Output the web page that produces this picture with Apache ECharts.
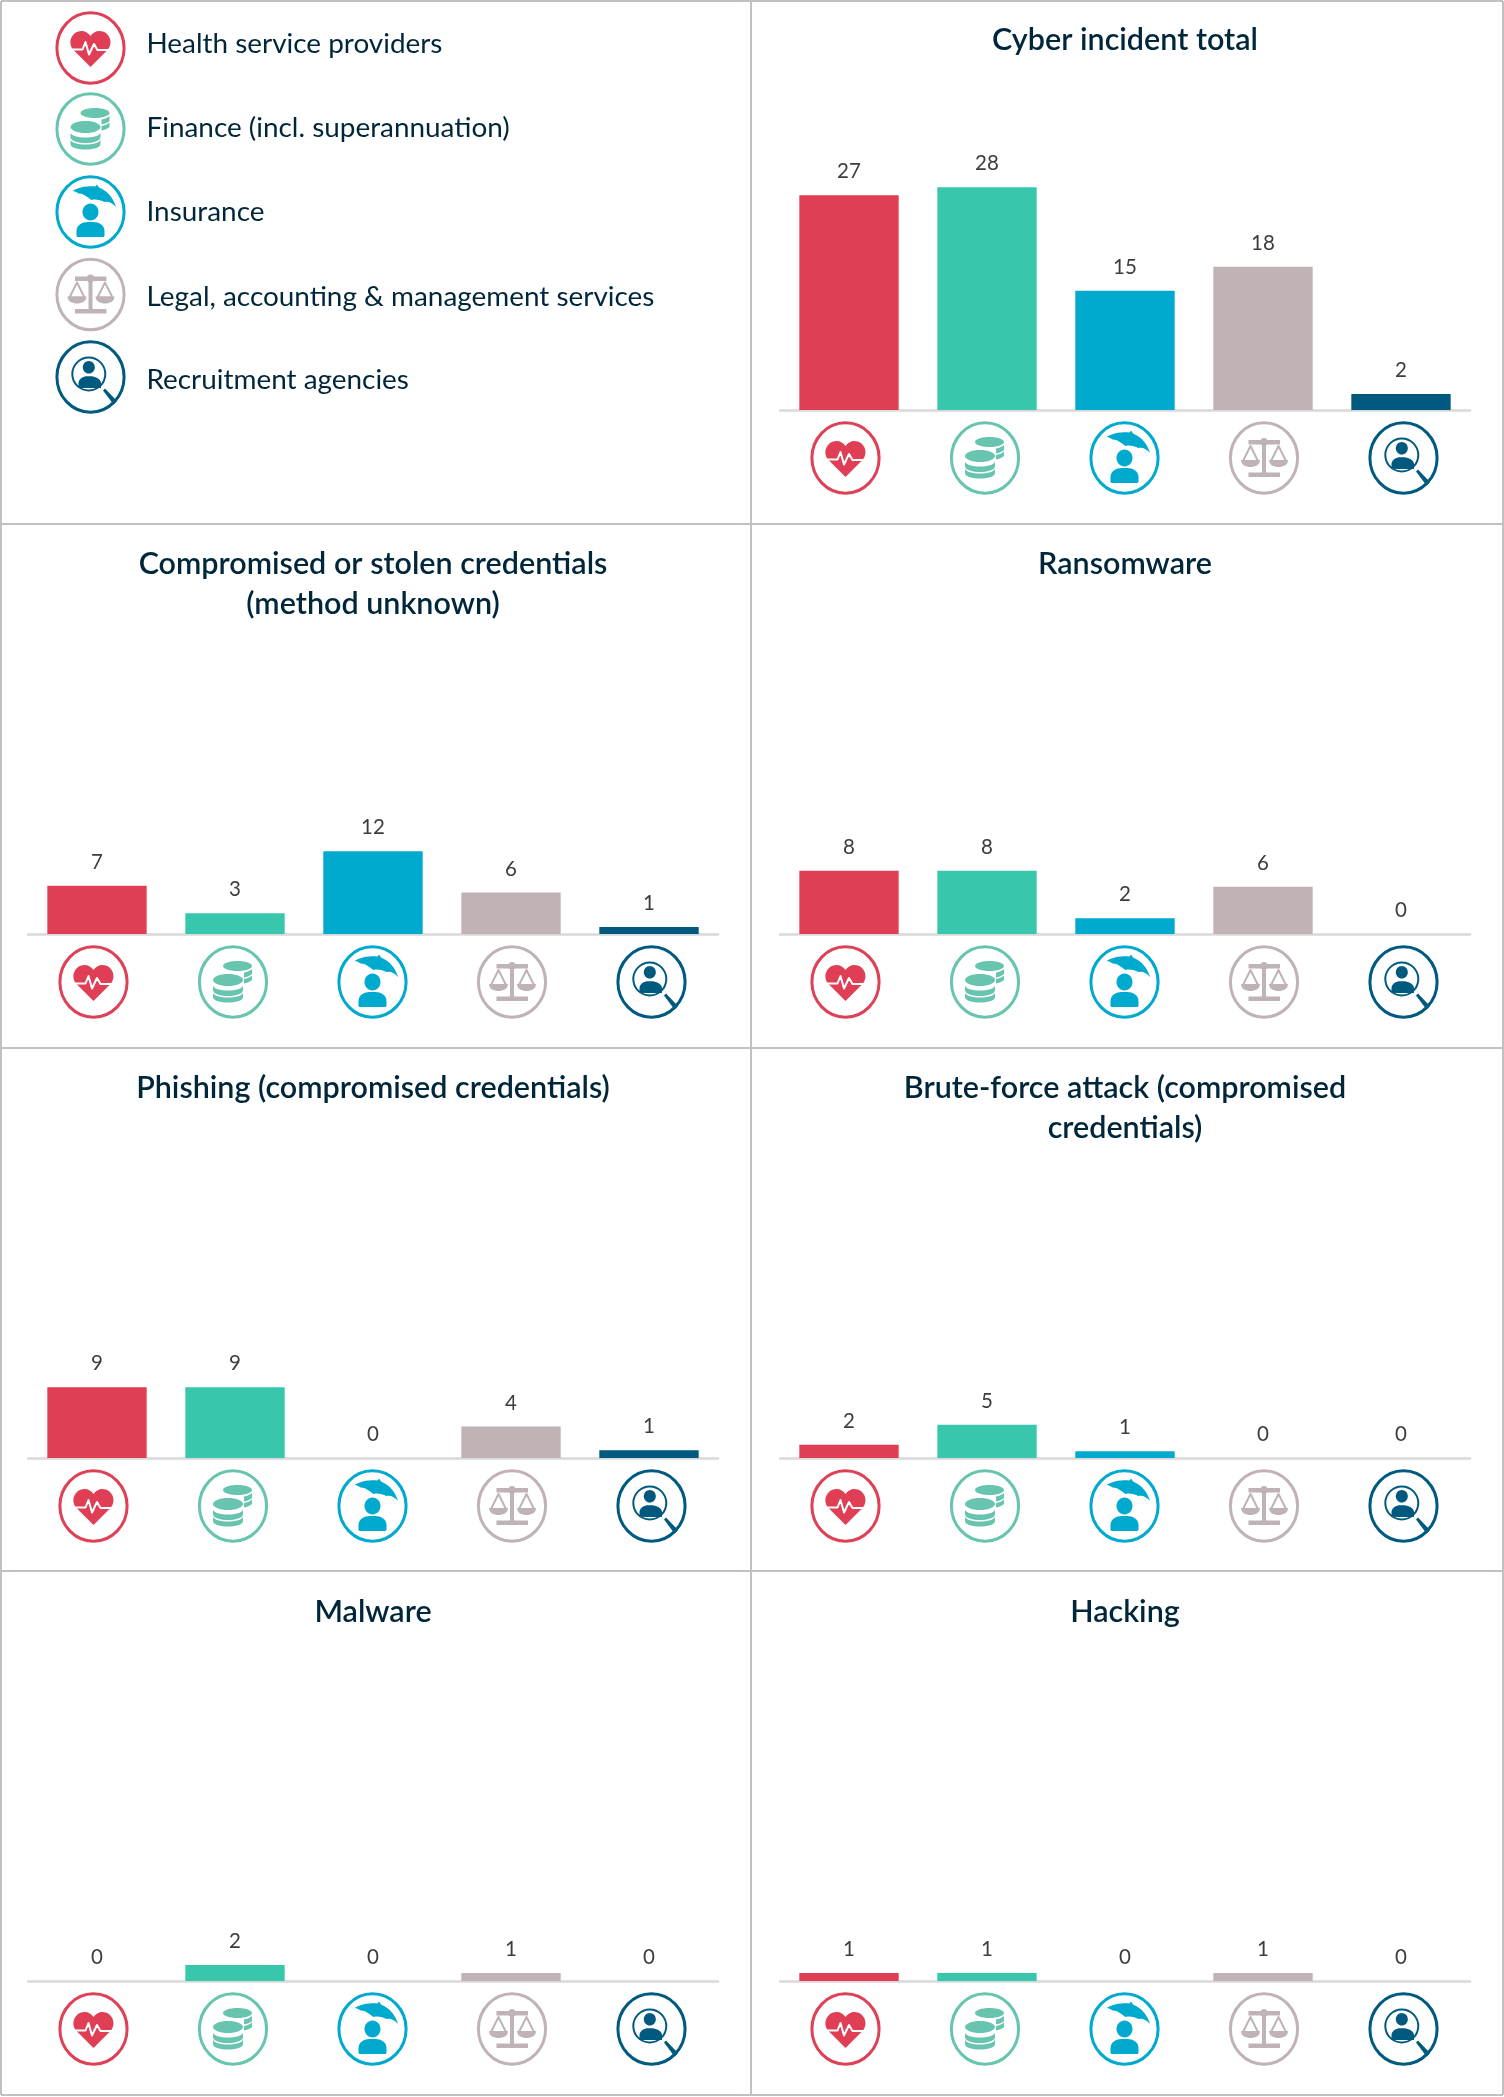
<!DOCTYPE html>
<html>
<head>
<meta charset="utf-8">
<title>Cyber incidents by sector</title>
<style>
  html, body { margin: 0; padding: 0; background: #fff; }
  #chart { width: 1504px; height: 2097px; }
</style>
<script src="https://cdn.jsdelivr.net/npm/echarts@6/dist/echarts.min.js"></script>
</head>
<body>
<div id="chart"></div>
<script>
;(function () {
  'use strict';

  var categories = [
    'Health service providers',
    'Finance (incl. superannuation)',
    'Insurance',
    'Legal, accounting & management services',
    'Recruitment agencies'
  ];
  var cyberTotal = [27, 28, 15, 18, 2];
  var credentials = [7, 3, 12, 6, 1];
  var ransomware = [8, 8, 2, 6, 0];
  var phishing = [9, 9, 0, 4, 1];
  var bruteForce = [2, 5, 1, 0, 0];
  var malware = [0, 2, 0, 1, 0];
  var hacking = [1, 1, 0, 1, 0];

  var barColors = ['#e03e54', '#38c7ac', '#00a9ce', '#c0b2b5', '#005a80'];
  var ringColors = ['#de4056', '#66c4af', '#00a9ce', '#bfb3b7', '#005a80'];

  var FONT = 'Lato';
  var INK = '#00263a';
  var BORDER = '#c4bfc1';
  var PLOT_H = 300;
  var ICON_DX = [-3.5, -2, -0.5, 1, 2.5];

  // col 0 is the left column, the legend takes the first left cell
  var panels = [
    { title: 'Cyber incident total', values: cyberTotal, col: 1, top: 0, base: 410, yMax: 37.7 },
    { title: 'Compromised or stolen credentials\n(method unknown)', values: credentials, col: 0, top: 524, base: 934, yMax: 43.5 },
    { title: 'Ransomware', values: ransomware, col: 1, top: 524, base: 934, yMax: 38 },
    { title: 'Phishing (compromised credentials)', values: phishing, col: 0, top: 1048, base: 1458, yMax: 38.2 },
    { title: 'Brute-force attack (compromised\ncredentials)', values: bruteForce, col: 1, top: 1048, base: 1458, yMax: 45 },
    { title: 'Malware', values: malware, col: 0, top: 1572, base: 1981, yMax: 37.5 },
    { title: 'Hacking', values: hacking, col: 1, top: 1572, base: 1981, yMax: 37.5 }
  ];
  var colLeft = [28, 780];
  var colWidth = 690;

  function filled(d, color) {
    return { type: 'path', shape: { pathData: d }, style: { fill: color } };
  }

  function stroked(d, color, width) {
    return { type: 'path', shape: { pathData: d }, style: { fill: 'none', stroke: color, lineWidth: width, lineJoin: 'round' } };
  }

  function disc(cx, cy, rx, ry, color) {
    return { type: 'ellipse', shape: { cx: cx, cy: cy, rx: rx, ry: ry }, style: { fill: color } };
  }

  function iconShapes(i) {
    var c = ringColors[i];
    var shapes = [{
      type: 'ellipse',
      shape: { cx: 0, cy: 0, rx: 33.6, ry: 35.2 },
      style: { fill: 'none', stroke: c, lineWidth: 3 }
    }];

    if (i === 0) {
      shapes.push(filled('M0 19 L-17 2 C-24 -6 -18 -17 -9 -17 C-5 -17 -2 -15 0 -12 C2 -15 5 -17 9 -17 C18 -17 24 -6 17 2 Z', barColors[0]));
      shapes.push(stroked('M-22 1.5 H-8 L-5 -6 L-1.5 6.5 L3.5 -4 L7 2 H22', '#fff', 2));
    } else if (i === 1) {
      shapes.push(disc(4.5, -16, 14.5, 5, c));
      shapes.push(filled('M11 -9.5 C14 -10 17 -11 19 -13 V-8 C17 -6 14 -5 11 -4.5 Z', c));
      shapes.push(filled('M11 -3 C14 -3.5 17 -4.5 19 -6.5 V-2 C17 0 14 1 11 1.5 Z', c));
      shapes.push(disc(-5, -2, 15, 6, c));
      shapes.push(filled('M-20 3 C-20 7 -12 8.5 -5 8.5 C2 8.5 10 7 10 3 V8 C10 12 2 14 -5 14 C-12 14 -20 12 -20 8 Z', c));
      shapes.push(filled('M-20 10 C-20 14 -12 15.5 -5 15.5 C2 15.5 10 14 10 10 V15 C10 19 2 20.5 -5 20.5 C-12 20.5 -20 19 -20 15 Z', c));
    } else if (i === 2) {
      shapes.push(filled('M-18 -21 C-13 -24 -8 -25.5 -3 -25.5 C0 -26 3 -25.5 5 -25.5 L6.5 -27.5 L8.5 -24.5 C17 -21 23 -14 25.5 -5 C22 -9 18 -11 14 -10 C10 -12 5 -13 1 -12 C-3 -15 -8 -19 -12 -18.5 C-14 -20 -16 -21 -18 -21 Z', c));
      shapes.push(disc(0, 0, 8, 8.5, c));
      shapes.push(filled('M-14 23 V19 C-14 13 -8 10 -3 10 H3 C8 10 14 13 14 19 V23 C14 25 13 25 12 25 H-12 C-13 25 -14 25 -14 23 Z', c));
    } else if (i === 3) {
      shapes.push(disc(0, -16, 4, 4, c));
      shapes.push({ type: 'rect', shape: { x: -15.5, y: -18, width: 31.5, height: 4.5 }, style: { fill: c } });
      shapes.push({ type: 'rect', shape: { x: -2, y: -16, width: 4, height: 32 }, style: { fill: c } });
      shapes.push({ type: 'rect', shape: { x: -15.5, y: 14.5, width: 31.5, height: 4.5 }, style: { fill: c } });
      shapes.push(stroked('M-13.5 -12 L-21 3 H-6 Z', c, 2));
      shapes.push(stroked('M14.5 -12 L7 3 H22 Z', c, 2));
      shapes.push(filled('M-23 2 H-4 C-4 7 -9 9 -13.5 9 C-18 9 -23 7 -23 2 Z', c));
      shapes.push(filled('M5 2 H24 C24 7 19 9 14.5 9 C10 9 5 7 5 2 Z', c));
    } else {
      shapes.push({ type: 'circle', shape: { cx: -1.7, cy: -3, r: 16.5 }, style: { fill: 'none', stroke: c, lineWidth: 2 } });
      shapes.push(disc(-1.7, -9.7, 6, 6.3, c));
      shapes.push(filled('M-12 11 V6 C-12 2 -7 -0.7 -3.5 -0.7 H0 C4 -0.7 10.5 2 10.5 6 V11 Z', c));
      shapes.push(filled('M12.5 13.5 L14.5 11.5 L26.5 24 L23 27.5 Z', c));
    }
    return shapes;
  }

  var grids = [];
  var xAxes = [];
  var yAxes = [];
  var titles = [];
  var series = [];

  panels.forEach(function (panel, k) {
    grids.push({ left: colLeft[panel.col], width: colWidth, top: panel.base - PLOT_H, height: PLOT_H, containLabel: false });
    xAxes.push({
      type: 'category',
      gridIndex: k,
      data: categories,
      offset: 1,
      axisLine: { show: true, lineStyle: { color: '#d9d9d9', width: 2.5 } },
      axisTick: { show: false },
      axisLabel: { show: false }
    });
    yAxes.push({ type: 'value', gridIndex: k, min: 0, max: panel.yMax, show: false, splitLine: { show: false } });
    titles.push({
      text: panel.title,
      left: colLeft[panel.col] + colWidth / 2,
      top: panel.top + 20,
      padding: 0,
      textAlign: 'center',
      textStyle: { fontFamily: FONT, fontSize: 30.5, fontWeight: 600, color: INK, lineHeight: 40 }
    });
    series.push({
      type: 'bar',
      xAxisIndex: k,
      yAxisIndex: k,
      data: panel.values,
      barWidth: '72%',
      silent: true,
      itemStyle: { color: function (p) { return barColors[p.dataIndex]; } },
      label: {
        show: true,
        position: 'top',
        distance: 13,
        fontFamily: FONT,
        fontSize: 20.5,
        color: '#3d3d3d'
      }
    });
    series.push({
      type: 'custom',
      xAxisIndex: k,
      yAxisIndex: k,
      silent: true,
      data: categories.map(function (c, i) { return [i, 0]; }),
      encode: { x: 0, y: 1 },
      renderItem: function (params, api) {
        var pos = api.coord([api.value(0), 0]);
        return {
          type: 'group',
          x: pos[0] + ICON_DX[params.dataIndex],
          y: pos[1] + 48,
          children: iconShapes(params.dataIndex)
        };
      }
    });
  });

  // legend in the first cell, drawn with the same icons
  var legendY = [48, 129, 212, 294.5, 377];
  var legendTextY = [44.3, 128.3, 212.3, 296.8, 379.8];
  series.push({
    type: 'custom',
    coordinateSystem: 'none',
    silent: true,
    data: categories.map(function (c, i) { return [i]; }),
    renderItem: function (params) {
      var i = params.dataIndex;
      return {
        type: 'group',
        x: 90.5,
        y: legendY[i],
        children: iconShapes(i).concat([{
          type: 'text',
          style: {
            text: categories[i],
            x: 56,
            y: legendTextY[i] - legendY[i],
            fill: INK,
            fontFamily: FONT,
            fontSize: 27.9,
            verticalAlign: 'middle'
          }
        }])
      };
    }
  });

  function border(x1, y1, x2, y2) {
    return { type: 'line', silent: true, shape: { x1: x1, y1: y1, x2: x2, y2: y2 }, style: { stroke: BORDER, lineWidth: 2 } };
  }

  var chart = echarts.init(document.getElementById('chart'));
  chart.setOption({
    animation: false,
    backgroundColor: '#fff',
    title: titles,
    grid: grids,
    xAxis: xAxes,
    yAxis: yAxes,
    series: series,
    graphic: [
      border(1, 1, 1503, 1),
      border(1, 524, 1503, 524),
      border(1, 1048, 1503, 1048),
      border(1, 1571, 1503, 1571),
      border(1, 2095, 1503, 2095),
      border(1, 1, 1, 2095),
      border(751, 1, 751, 2095),
      border(1503, 1, 1503, 2095)
    ]
  });
})();
</script>
</body>
</html>
